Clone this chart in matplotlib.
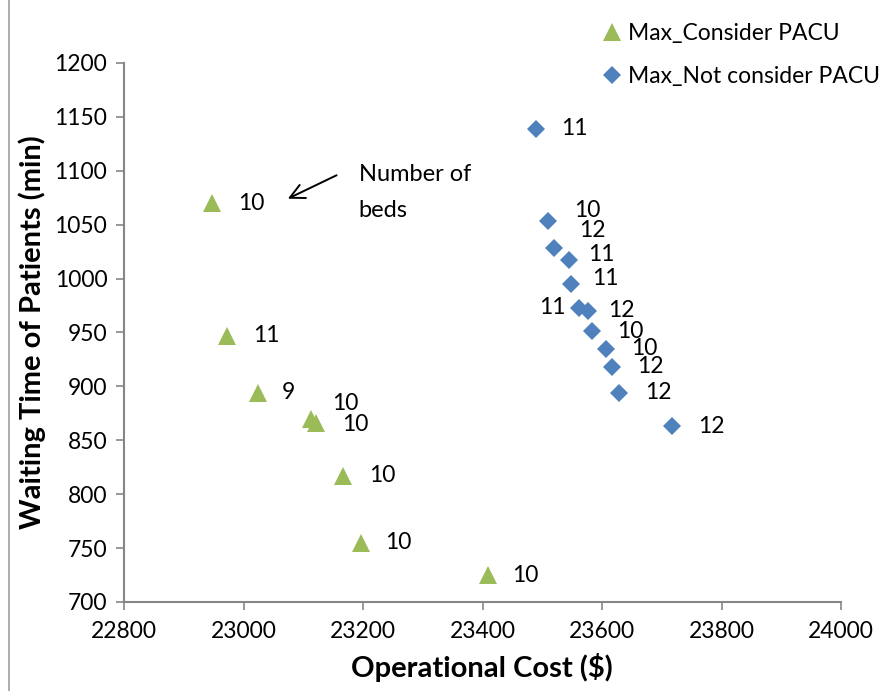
import matplotlib
matplotlib.use("Agg")
import matplotlib.pyplot as plt
from matplotlib.lines import Line2D

plt.rcParams['font.family'] = ['Lato', 'DejaVu Sans']

# Max_Consider PACU
green_cost = [22948, 22972, 23024, 23113, 23122, 23166, 23197, 23409]
green_wait = [1070, 947, 894, 870, 866, 817, 755, 725]
green_beds = ['10', '11', '9', '10', '10', '10', '10', '10']

# Max_Not consider PACU
blue_cost = [23490, 23510, 23520, 23545, 23548, 23561, 23577, 23583, 23607, 23617, 23628, 23717]
blue_wait = [1139, 1053, 1028, 1017, 995, 973, 970, 951, 935, 918, 894, 863]
blue_beds = ['11', '10', '12', '11', '11', '11', '12', '10', '10', '12', '12', '12']

x_ticks = [22800, 23000, 23200, 23400, 23600, 23800, 24000]
y_ticks = [700, 750, 800, 850, 900, 950, 1000, 1050, 1100, 1150, 1200]

GREEN = '#9BBB59'
BLUE = '#4F81BD'
GRAY = '#868686'
FS = 16.5

# label offsets in pixels (dx, dy), dy positive = up
green_off = [(26, 0), (26, 0), (24, 0), (21, 15), (26, -1), (26, 0), (24, 0), (24, 0)]
blue_off = [(25, 0), (26, 11), (25, 18), (19, 6), (21, 5), (-13, 0), (20, 0),
            (25, 0), (25, 0), (25, 0), (26, 0), (26, 0)]

fig = plt.figure(figsize=(8.82, 6.91), dpi=100)
ax = fig.add_axes([124 / 882, 1 - 602 / 691, (841 - 124) / 882, (602 - 63) / 691])

ax.plot(green_cost, green_wait, linestyle='none', marker='^', markersize=13.5,
        color=GREEN, markeredgewidth=0, label='Max_Consider PACU')
ax.plot(blue_cost, blue_wait, linestyle='none', marker='D', markersize=9.5,
        color=BLUE, markeredgewidth=0, label='Max_Not consider PACU')

PX = 72 / 100  # pixels -> points
for x, y, t, (dx, dy) in zip(green_cost, green_wait, green_beds, green_off):
    ax.annotate(t, (x, y), xytext=(dx * PX, dy * PX), textcoords='offset points',
                ha='left' if dx > 0 else 'right', va='center', fontsize=FS)
for x, y, t, (dx, dy) in zip(blue_cost, blue_wait, blue_beds, blue_off):
    ax.annotate(t, (x, y), xytext=(dx * PX, dy * PX), textcoords='offset points',
                ha='left' if dx > 0 else 'right', va='center', fontsize=FS)

# arrow + note
ax.annotate('', xy=(23070, 1073), xytext=(23160, 1097),
            arrowprops=dict(arrowstyle='->', color='black', lw=1.4,
                            mutation_scale=26))
ax.text(23193, 1106, 'Number of\nbeds', ha='left', va='top', fontsize=17,
        linespacing=1.85)

ax.set_xlim(22800, 24000)
ax.set_ylim(700, 1200)
ax.set_xticks(x_ticks)
ax.set_yticks(y_ticks)
ax.tick_params(axis='both', labelsize=FS, color=GRAY, length=6, width=1.2,
               direction='out')
ax.tick_params(axis='x', pad=8)
ax.tick_params(axis='y', pad=6)
for side in ['top', 'right']:
    ax.spines[side].set_visible(False)
for side in ['left', 'bottom']:
    ax.spines[side].set_color(GRAY)
    ax.spines[side].set_linewidth(1.5)

fig.text(482 / 882, 1 - 668 / 691, 'Operational Cost ($)', ha='center', va='center',
         fontsize=21, fontweight='bold')
fig.text(32 / 882, 1 - 332 / 691, 'Waiting Time of Patients (min)', ha='center',
         va='center', rotation=90, fontsize=21, fontweight='bold')

fig.legend(loc='upper left', bbox_to_anchor=(603 / 882, 1 - 23 / 691), frameon=False,
           fontsize=FS, handlelength=0.8, handletextpad=0.3, labelspacing=0.95,
           borderpad=0, borderaxespad=0)

# chart border on the left edge
fig.add_artist(Line2D([9 / 882, 9 / 882], [0, 1], color='#A0A0A0', lw=1.2))

fig.savefig('out.png', dpi=100)
